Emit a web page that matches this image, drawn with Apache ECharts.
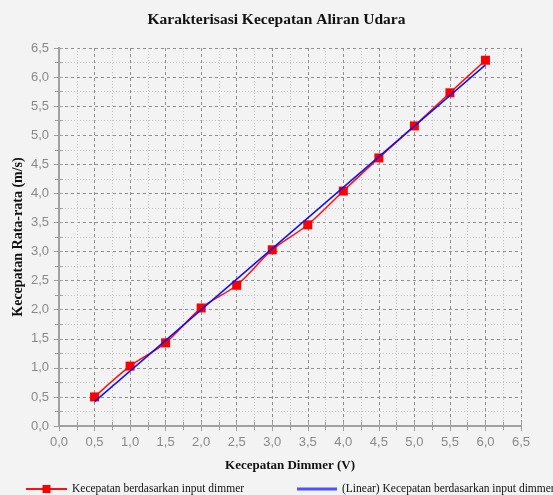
<!DOCTYPE html>
<html>
<head>
<meta charset="utf-8">
<script src="https://cdn.jsdelivr.net/npm/echarts@6/dist/echarts.min.js"></script>
<style>
html,body{margin:0;padding:0;background:#f3f3f3;}
#c{width:553px;height:495px;}
</style>
</head>
<body>
<div id="c"></div>
<script>
var titleText = 'Karakterisasi Kecepatan Aliran Udara';
var xName = 'Kecepatan Dimmer (V)';
var yName = 'Kecepatan Rata-rata (m/s)';
var seriesName = 'Kecepatan berdasarkan input dimmer';
var linearName = '(Linear) Kecepatan berdasarkan input dimmer';
var dimmerV = [0.5, 1.0, 1.5, 2.0, 2.5, 3.0, 3.5, 4.0, 4.5, 5.0, 5.5, 6.0];
var speed = [0.50, 1.03, 1.43, 2.03, 2.42, 3.03, 3.46, 4.04, 4.61, 5.16, 5.73, 6.29];
var linearX = [0.5, 6.0];
var linearY = [0.42, 6.21];

function fmt(v){ return v.toFixed(1).replace('.', ','); }
var measured = dimmerV.map(function(x,i){ return [x, speed[i]]; });
var linear = linearX.map(function(x,i){ return [x, linearY[i]]; });

var serif = '"Liberation Serif", "Times New Roman", serif';
var sans = '"Liberation Sans", Arial, sans-serif';
var axisCol = '#a0a0a0';

function frameAxis(pos){
  return {
    type: 'value', position: pos, min: 0, max: 6.5, interval: 0.25,
    axisLine: {show: true, lineStyle: {color: axisCol, width: 2}},
    axisTick: {show: true, inside: true, length: 4, lineStyle: {color: axisCol, width: 1}},
    axisLabel: {show: false}, splitLine: {show: false}
  };
}

var chart = echarts.init(document.getElementById('c'));
chart.setOption({
  backgroundColor: '#f3f3f3',
  animation: false,
  title: {
    text: titleText, left: 'center', top: 7,
    textStyle: {fontFamily: serif, fontWeight: 'bold', fontSize: 15.5, color: '#111'}
  },
  grid: {left: 59, right: 32, top: 48, bottom: 69},
  legend: [{
    data: [seriesName], left: 20, top: 478, itemWidth: 41, itemHeight: 10,
    textStyle: {fontFamily: serif, fontSize: 11.5, color: '#111', padding: [5, 0, 0, 0]}
  },{
    data: [{name: linearName, icon: 'rect'}], left: 292, top: 478, itemWidth: 40, itemHeight: 3,
    itemStyle: {color: '#5050ff'},
    textStyle: {fontFamily: serif, fontSize: 11.5, color: '#111', padding: [9, 0, 0, 0]}
  }],
  xAxis: [{
    type: 'value', min: 0, max: 6.5, interval: 0.5, position: 'bottom',
    name: xName, nameLocation: 'middle', nameGap: 33, nameMoveOverlap: false,
    nameTextStyle: {fontFamily: serif, fontWeight: 'bold', fontSize: 13, color: '#111'},
    axisLine: {show: true, lineStyle: {color: axisCol, width: 2}},
    axisTick: {show: true, length: 5, lineStyle: {color: axisCol}},
    axisLabel: {formatter: fmt, color: '#8a8a8a', fontFamily: sans, fontSize: 13, margin: 10},
    splitLine: {show: true, lineStyle: {color: '#8e8e8e', type: [3, 3], width: 1}},
    minorTick: {show: false, splitNumber: 2},
    minorSplitLine: {show: true, lineStyle: {color: '#c4c4c4', type: [1, 2], width: 1}}
  }, frameAxis('top'), frameAxis('bottom')],
  yAxis: [{
    type: 'value', min: 0, max: 6.5, interval: 0.5, position: 'left',
    name: yName, nameLocation: 'middle', nameGap: 34, nameMoveOverlap: false,
    nameTextStyle: {fontFamily: serif, fontWeight: 'bold', fontSize: 14, color: '#111'},
    axisLine: {show: true, lineStyle: {color: axisCol, width: 2}},
    axisTick: {show: true, length: 5, lineStyle: {color: axisCol}},
    axisLabel: {formatter: fmt, color: '#8a8a8a', fontFamily: sans, fontSize: 13, margin: 10},
    splitLine: {show: true, lineStyle: {color: '#8e8e8e', type: [3, 3], width: 1}},
    minorTick: {show: false, splitNumber: 2},
    minorSplitLine: {show: true, lineStyle: {color: '#c4c4c4', type: [1, 2], width: 1}}
  }, frameAxis('right'), frameAxis('left')],
  series: [{
    name: seriesName, type: 'line', data: measured, xAxisIndex: 0, yAxisIndex: 0,
    smooth: 0.3, symbol: 'rect', symbolSize: 9,
    lineStyle: {color: '#ff1010', width: 1.5},
    itemStyle: {color: '#ff0000'}, z: 3
  },{
    name: linearName, type: 'line', data: linear, xAxisIndex: 0, yAxisIndex: 0,
    symbol: 'none', showSymbol: false,
    lineStyle: {color: '#1010f0', width: 1.5},
    itemStyle: {color: '#5050ff'}, z: 4
  }]
});
</script>
</body>
</html>
